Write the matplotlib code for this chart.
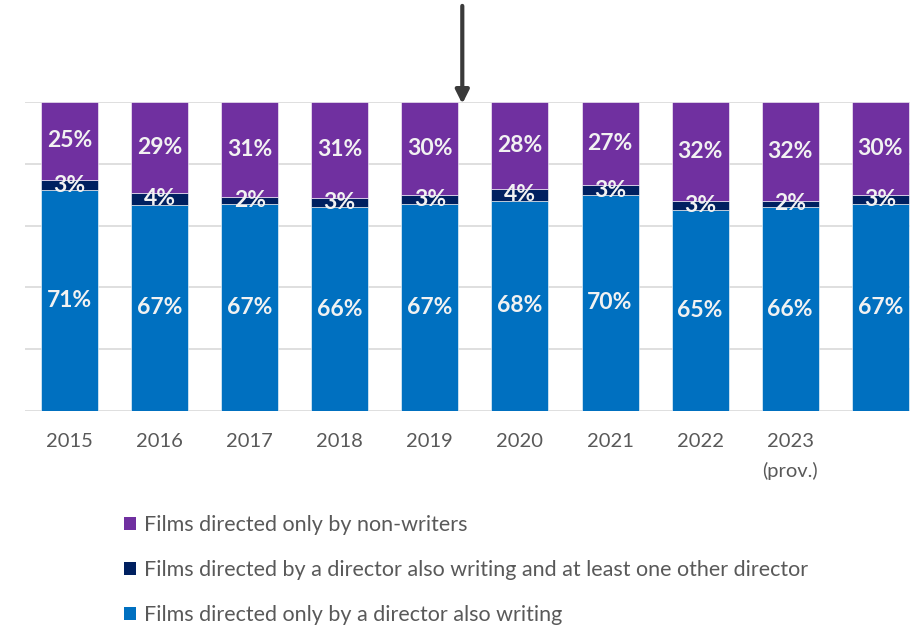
import matplotlib
matplotlib.use("Agg")
import matplotlib.pyplot as plt
from matplotlib.patches import Patch

plt.rcParams['font.family'] = ['Lato', 'DejaVu Sans']

years = ["2015", "2016", "2017", "2018", "2019", "2020", "2021", "2022", "2023\n(prov.)", ""]
writer_only = [71.4, 66.8, 67.0, 66.0, 67.0, 68.0, 70.0, 65.0, 66.0, 67.0]
writer_plus_other = [3.4, 3.8, 2.2, 3.0, 3.0, 4.0, 3.0, 3.0, 2.0, 3.0]
non_writers = [25.2, 29.4, 30.8, 31.0, 30.0, 28.0, 27.0, 32.0, 32.0, 30.0]

series_names = ["Films directed only by a director also writing",
                "Films directed by a director also writing and at least one other director",
                "Films directed only by non-writers"]
colors = ["#0070C0", "#002060", "#7030A0"]

W, H = 910, 626
fig = plt.figure(figsize=(W / 100, H / 100), dpi=100)
ax = fig.add_axes([24.5 / W, 1 - 411 / H, (W - 24.5) / W, 309 / H])

x = list(range(len(years)))
bw = 0.633
bottom = [0.0] * len(years)
for vals, col in zip([writer_only, writer_plus_other, non_writers], colors):
    ax.bar(x, vals, bw, bottom=bottom, color=col, edgecolor="#FFFFFF", linewidth=0.4, zorder=3)
    for xi, v, b in zip(x, vals, bottom):
        ax.text(xi, b + v / 2, f"{v:.0f}%", ha="center", va="center",
                color="#F2F2F2", fontsize=16.5, fontweight="bold", zorder=4)
    bottom = [b + v for b, v in zip(bottom, vals)]

ax.set_xlim(-0.5, 9.33)
ax.set_ylim(0, 100)
ax.set_yticks([0, 20, 40, 60, 80, 100])
ax.yaxis.grid(True, color="#D9D9D9", linewidth=1.2, zorder=0)
ax.set_yticklabels([])
ax.tick_params(axis="y", length=0)
ax.set_xticks(x)
ax.set_xticklabels(years, fontsize=14.5, color="#595959", linespacing=1.75)
ax.tick_params(axis="x", length=0, pad=16)
for s in ["top", "right", "left", "bottom"]:
    ax.spines[s].set_visible(False)

ax.annotate("", xy=(4.36, 98.5), xycoords="data",
            xytext=(4.36, 0.995), textcoords=("data", "figure fraction"),
            arrowprops=dict(arrowstyle="-|>", lw=3, color="#3A3A3A", mutation_scale=20),
            annotation_clip=False)

handles = [Patch(facecolor=colors[2]), Patch(facecolor=colors[1]), Patch(facecolor=colors[0])]
labels = [series_names[2], series_names[1], series_names[0]]
fig.legend(handles, labels, loc="upper left", bbox_to_anchor=(105 / W, 1 - 496 / H),
           frameon=False, fontsize=15.5, labelcolor="#595959", handlelength=0.55,
           handleheight=0.55, handletextpad=0.35, labelspacing=1.16)

fig.savefig("out.png", dpi=100)
